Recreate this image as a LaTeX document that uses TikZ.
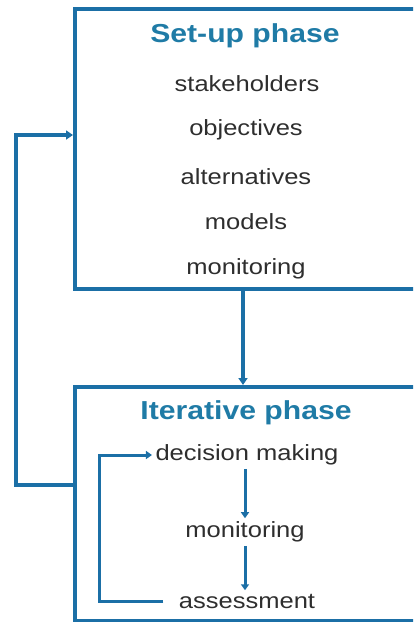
\documentclass[tikz,border=0pt]{standalone}
\usepackage{fontspec}
\newfontfamily\diafont[FakeStretch=1.16]{Liberation Sans}
\usepackage{xcolor}
\usetikzlibrary{positioning,arrows.meta}
\definecolor{lineblue}{HTML}{1B6FA6}
\definecolor{titleblue}{HTML}{1F7BA6}
\definecolor{textgray}{HTML}{2E2E2E}

\begin{document}
\begin{tikzpicture}[x=1pt, y=1pt,
  phase/.style={draw=lineblue, line width=4pt, rectangle, anchor=north west, minimum width=360pt},
  title/.style={font=\diafont\fontsize{26}{30}\selectfont\bfseries, text=titleblue},
  item/.style={font=\diafont\fontsize{22}{26}\selectfont, text=textgray},
  flow/.style={draw=lineblue, line width=3.5pt, -{Triangle[width=9pt,length=7pt]}},
  substep/.style={draw=lineblue, line width=3pt, -{Triangle[width=8pt,length=6pt]}}
]
\useasboundingbox (0,0) rectangle (413,-622);
\clip (0,0) rectangle (413,-622);

% Phase boxes
\node[phase, minimum height=280pt] (setup) at (73,-7) {};
\node[phase, minimum height=234pt] (iter) at (73,-385) {};

% Set-up phase
\node[title] (ttlsetup) at (245,-36) {Set-up phase};
\node[item] (stake) at (247,-84) {stakeholders};
\node[item] (obj) at (246,-130) {objectives};
\node[item] (alt) at (246,-177) {alternatives};
\node[item] (mod) at (246,-222) {models};
\node[item] (monsetup) at (246,-269) {monitoring};

% Iterative phase
\node[title] (ttliter) at (246,-413) {Iterative phase};
\node[item] (dm) at (247,-455) {decision making};
\node[item] (mon) at (245,-532) {monitoring};
\node[item] (asm) at (247,-601) {assessment};

% Connectors between phases
\coordinate (mid) at (243,0);
\draw[flow] (setup.south -| mid) -- (iter.north -| mid);
\coordinate (back) at (16,-135);
\draw[flow] (73,-485) -| (back) -- (back -| setup.west);

% Inner cycle
\draw[substep] (dm.south -| mon.north) -- (mon.north);
\draw[substep] (mon.south) -- (asm.north -| mon.south);
\coordinate (inner) at (99,-455);
\draw[substep] ([xshift=-12pt]asm.west) -| (inner) -- (dm.west);

\end{tikzpicture}
\end{document}
